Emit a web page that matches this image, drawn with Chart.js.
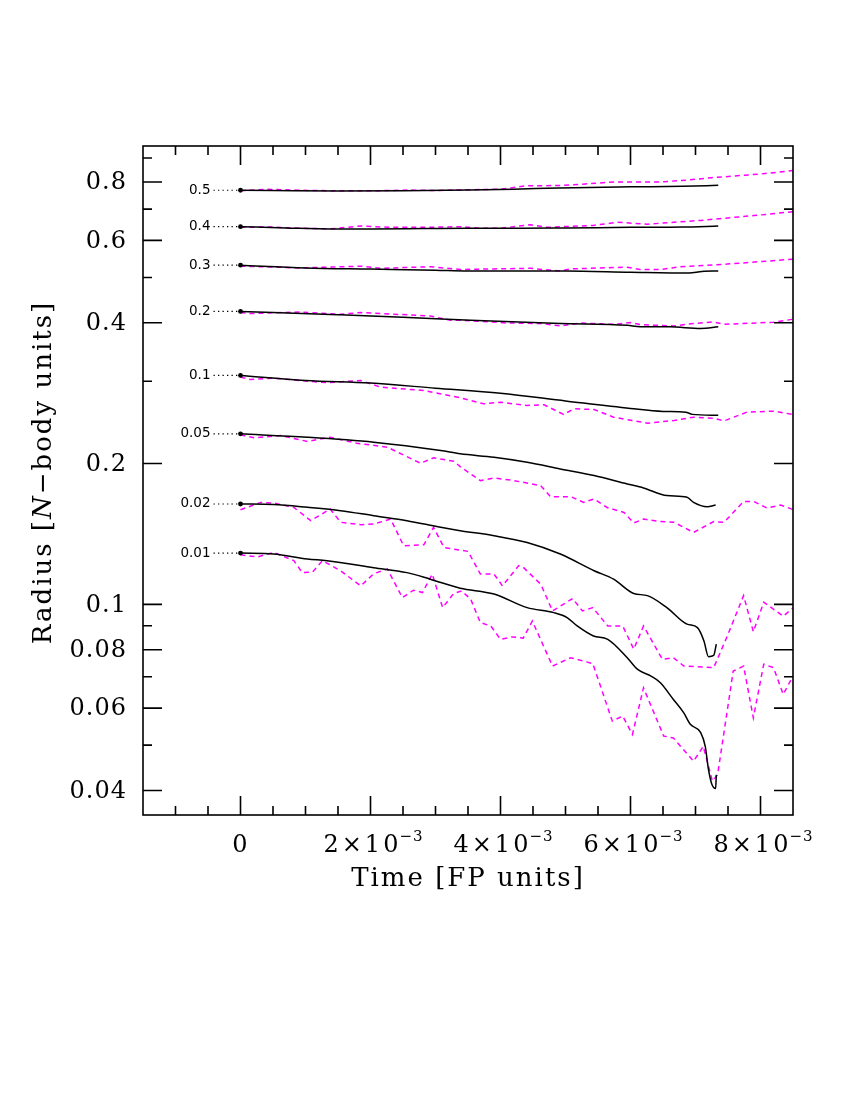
<!DOCTYPE html>
<html>
<head>
<meta charset="utf-8">
<script src="https://cdn.jsdelivr.net/npm/chart.js@4/dist/chart.umd.min.js"></script>
<style>
  html, body { margin: 0; padding: 0; background: #fff; }
  #wrap { width: 850px; height: 1100px; }
</style>
</head>
<body>
<div id="wrap"><canvas id="c" width="850" height="1100"></canvas></div>
<script>
// ---------- data (Time [FP units], Radius [N-body units]) ----------
const massFractions = ["0.5", "0.4", "0.3", "0.2", "0.1", "0.05", "0.02", "0.01"];

// N-body Lagrangian radii (solid black)
const nbody05 = [[0,0.768],[0.5e-3,0.767],[1.5e-3,0.765],[2.5e-3,0.766],[3.5e-3,0.769],[4.2e-3,0.772],[4.9e-3,0.777],[6e-3,0.781],[6.8e-3,0.783],[7.35e-3,0.787]];
const nbody04 = [[0,0.642],[0.7e-3,0.638],[1.4e-3,0.635],[2.0e-3,0.635],[2.8e-3,0.636],[3.5e-3,0.637],[4.3e-3,0.637],[5.0e-3,0.638],[6.0e-3,0.640],[6.8e-3,0.641],[7.35e-3,0.644]];
const nbody03 = [[0,0.531],[1e-3,0.524],[2e-3,0.521],[3e-3,0.518],[3.5e-3,0.516],[5e-3,0.516],[6e-3,0.513],[6.9e-3,0.511],[7.1e-3,0.515],[7.35e-3,0.516]];
const nbody02 = [[0,0.423],[1.5e-3,0.416],[2.5e-3,0.411],[3.54e-3,0.405],[4.92e-3,0.3985],[5.95e-3,0.395],[6.15e-3,0.392],[6.6e-3,0.392],[7.08e-3,0.389],[7.35e-3,0.392]];
const nbody01 = [[0,0.3087],[1e-3,0.3011],[2e-3,0.2972],[3e-3,0.2899],[4e-3,0.2828],[5e-3,0.2722],[6e-3,0.2623],[6.5e-3,0.2585],[6.85e-3,0.2575],[6.95e-3,0.2548],[7.35e-3,0.2536]];
const nbody005 = [[0,0.2315],[1.03e-3,0.2277],[2.05e-3,0.2222],[3.08e-3,0.2132],[3.38e-3,0.2098],[3.9e-3,0.2063],[4.41e-3,0.2013],[4.92e-3,0.1948],[5.44e-3,0.1885],[5.95e-3,0.1809],[6.2e-3,0.1774],[6.56e-3,0.1708],[6.87e-3,0.1694],[6.97e-3,0.1652],[7.18e-3,0.1617],[7.31e-3,0.1631]];
const nbody002 = [[0,0.1639],[0.51e-3,0.1634],[1.03e-3,0.1612],[1.54e-3,0.1586],[2.05e-3,0.1547],[2.56e-3,0.1510],[3.08e-3,0.1461],[3.38e-3,0.1437],[3.9e-3,0.1402],[4.41e-3,0.1356],[4.92e-3,0.1281],[5.44e-3,0.1180],[5.74e-3,0.1132],[6.05e-3,0.1055],[6.26e-3,0.1044],[6.56e-3,0.0984],[6.87e-3,0.0907],[7.03e-3,0.0892],[7.13e-3,0.0835],[7.2e-3,0.0773],[7.28e-3,0.0778],[7.32e-3,0.0822]];
const nbody001 = [[0,0.1287],[0.51e-3,0.1281],[1.03e-3,0.1250],[1.33e-3,0.1240],[2.05e-3,0.1198],[2.56e-3,0.1169],[2.92e-3,0.1132],[3.38e-3,0.1083],[3.9e-3,0.1052],[4.41e-3,0.0984],[4.82e-3,0.0960],[5.03e-3,0.0936],[5.18e-3,0.0899],[5.43e-3,0.0856],[5.65e-3,0.0842],[5.95e-3,0.0769],[6.11e-3,0.0726],[6.31e-3,0.0703],[6.46e-3,0.0680],[6.66e-3,0.0626],[6.82e-3,0.0586],[6.92e-3,0.0554],[7.08e-3,0.0532],[7.15e-3,0.0497],[7.2e-3,0.0443],[7.25e-3,0.0413],[7.31e-3,0.0404],[7.32e-3,0.0432]];

// Fokker-Planck Lagrangian radii (dashed magenta)
const fp05 = [[0,0.766],[0.4e-3,0.772],[0.9e-3,0.768],[1.5e-3,0.766],[2.1e-3,0.766],[2.6e-3,0.769],[3.0e-3,0.767],[3.5e-3,0.770],[4.0e-3,0.772],[4.4e-3,0.785],[4.9e-3,0.786],[5.3e-3,0.792],[5.75e-3,0.800],[6.45e-3,0.800],[6.9e-3,0.808],[7.25e-3,0.817],[8.0e-3,0.832],[8.5e-3,0.846]];
const fp04 = [[0,0.640],[0.45e-3,0.641],[0.92e-3,0.637],[1.38e-3,0.635],[1.85e-3,0.644],[2.3e-3,0.640],[2.9e-3,0.640],[3.38e-3,0.642],[3.69e-3,0.637],[4.0e-3,0.637],[4.46e-3,0.648],[4.72e-3,0.640],[5.43e-3,0.646],[5.8e-3,0.656],[6.26e-3,0.650],[7.08e-3,0.662],[7.28e-3,0.666],[7.9e-3,0.678],[8.5e-3,0.691]];
const fp03 = [[0,0.5285],[0.92e-3,0.524],[1.85e-3,0.5285],[2.15e-3,0.523],[2.92e-3,0.527],[3.38e-3,0.520],[3.9e-3,0.5215],[4.46e-3,0.523],[4.92e-3,0.516],[5.08e-3,0.5215],[5.95e-3,0.526],[6.15e-3,0.520],[6.46e-3,0.520],[6.77e-3,0.527],[7.49e-3,0.534],[8.5e-3,0.547]];
const fp02 = [[0,0.4206],[0.15e-3,0.4186],[0.92e-3,0.4218],[1.54e-3,0.4171],[1.85e-3,0.4206],[2.92e-3,0.4136],[3.23e-3,0.405],[3.38e-3,0.405],[4.1e-3,0.3996],[4.62e-3,0.3985],[4.92e-3,0.3938],[5.23e-3,0.3996],[5.74e-3,0.3969],[6.0e-3,0.4004],[6.15e-3,0.3963],[6.67e-3,0.3938],[6.97e-3,0.3985],[7.28e-3,0.4016],[7.44e-3,0.3969],[8.2e-3,0.401],[8.5e-3,0.407]];
const fp01 = [[0,0.3061],[0.15e-3,0.3026],[0.51e-3,0.3045],[1.03e-3,0.3001],[1.33e-3,0.2978],[1.85e-3,0.3011],[2.15e-3,0.2914],[2.46e-3,0.2891],[2.82e-3,0.2866],[3.38e-3,0.2765],[3.74e-3,0.2684],[4.0e-3,0.2705],[4.41e-3,0.2662],[4.67e-3,0.2671],[4.97e-3,0.2547],[5.13e-3,0.2619],[5.44e-3,0.2610],[5.74e-3,0.2513],[6.26e-3,0.2440],[6.67e-3,0.2472],[6.97e-3,0.2513],[7.28e-3,0.2500],[7.44e-3,0.2468],[7.79e-3,0.2576],[8.2e-3,0.2589],[8.5e-3,0.2547]];
const fp005 = [[0,0.2304],[0.21e-3,0.2270],[0.62e-3,0.2296],[1.03e-3,0.2230],[1.38e-3,0.2277],[1.79e-3,0.2211],[2.26e-3,0.2168],[2.77e-3,0.2003],[2.97e-3,0.2057],[3.28e-3,0.2023],[3.38e-3,0.1970],[3.69e-3,0.1839],[3.9e-3,0.1862],[4.15e-3,0.1845],[4.62e-3,0.1794],[4.77e-3,0.1699],[5.08e-3,0.1699],[5.28e-3,0.1652],[5.44e-3,0.1680],[5.64e-3,0.1611],[5.9e-3,0.1572],[6.05e-3,0.1493],[6.2e-3,0.1522],[6.46e-3,0.1503],[6.67e-3,0.1498],[6.97e-3,0.1425],[7.28e-3,0.1503],[7.44e-3,0.1498],[7.74e-3,0.1660],[7.9e-3,0.1658],[8.1e-3,0.1607],[8.31e-3,0.1631],[8.5e-3,0.1595]];
const fp002 = [[0,0.1593],[0.31e-3,0.1652],[0.51e-3,0.1647],[0.82e-3,0.1612],[1.08e-3,0.1510],[1.38e-3,0.1599],[1.54e-3,0.1498],[1.85e-3,0.1480],[2.05e-3,0.1485],[2.31e-3,0.1522],[2.51e-3,0.1334],[2.82e-3,0.1341],[2.97e-3,0.1461],[3.13e-3,0.1323],[3.5e-3,0.1298],[3.69e-3,0.1161],[3.9e-3,0.1161],[4.03e-3,0.1095],[4.28e-3,0.1210],[4.35e-3,0.1200],[4.62e-3,0.1104],[4.8e-3,0.0968],[5.11e-3,0.1029],[5.26e-3,0.0968],[5.42e-3,0.0984],[5.65e-3,0.0899],[5.88e-3,0.0899],[6.05e-3,0.0802],[6.2e-3,0.0899],[6.49e-3,0.0763],[6.66e-3,0.0769],[6.82e-3,0.0738],[7.28e-3,0.0732],[7.49e-3,0.0856],[7.74e-3,0.1044],[7.89e-3,0.0874],[8.05e-3,0.1011],[8.35e-3,0.0943],[8.5e-3,0.0983]];
const fp001 = [[0,0.1276],[0.26e-3,0.1263],[0.51e-3,0.1291],[0.82e-3,0.1240],[0.95e-3,0.1169],[1.11e-3,0.1173],[1.26e-3,0.1240],[1.54e-3,0.1180],[1.85e-3,0.1095],[2.05e-3,0.1163],[2.26e-3,0.1190],[2.49e-3,0.1034],[2.66e-3,0.1072],[2.8e-3,0.1060],[2.95e-3,0.1161],[3.11e-3,0.0984],[3.28e-3,0.1055],[3.40e-3,0.1068],[3.54e-3,0.1027],[3.69e-3,0.0914],[3.85e-3,0.0899],[4.0e-3,0.0842],[4.18e-3,0.0852],[4.35e-3,0.0847],[4.49e-3,0.0921],[4.8e-3,0.0738],[5.08e-3,0.0769],[5.42e-3,0.0747],[5.72e-3,0.0563],[5.88e-3,0.0577],[6.03e-3,0.0527],[6.2e-3,0.0663],[6.51e-3,0.0523],[6.66e-3,0.0518],[6.97e-3,0.0462],[7.12e-3,0.0497],[7.26e-3,0.0419],[7.34e-3,0.0432],[7.58e-3,0.0720],[7.74e-3,0.0738],[7.89e-3,0.0572],[8.05e-3,0.0745],[8.2e-3,0.0732],[8.35e-3,0.0642],[8.5e-3,0.0703]];

// axes
const xRange = [-1.5e-3, 8.5e-3];
const yRange = [0.03545, 0.955];
const xMajorTicks = [0, 2e-3, 4e-3, 6e-3, 8e-3];
const xMinorTicks = [-1e-3, -0.5e-3, 0.5e-3, 1e-3, 1.5e-3, 2.5e-3, 3e-3, 3.5e-3, 4.5e-3, 5e-3, 5.5e-3, 6.5e-3, 7e-3, 7.5e-3];
const xTickLabels = [["0", ""], ["2\u00d710", "\u22123"], ["4\u00d710", "\u22123"], ["6\u00d710", "\u22123"], ["8\u00d710", "\u22123"]];
const yMajorTicks = [0.04, 0.06, 0.08, 0.1, 0.2, 0.4, 0.6, 0.8];
const yMinorTicks = [0.05, 0.07, 0.09, 0.3, 0.5, 0.7, 0.9];
const yTickLabels = ["0.04", "0.06", "0.08", "0.1", "0.2", "0.4", "0.6", "0.8"];
const xTitle = "Time [FP units]";
const yTitleParts = ["Radius [", "N", "\u2212body units]"];

// ---------- datasets ----------
const nbodySeries = [nbody05, nbody04, nbody03, nbody02, nbody01, nbody005, nbody002, nbody001];
const fpSeries = [fp05, fp04, fp03, fp02, fp01, fp005, fp002, fp001];
const toXY = arr => arr.map(p => ({ x: p[0], y: p[1] }));

const datasets = [];
nbodySeries.forEach((s, i) => datasets.push({
  label: "N-body " + massFractions[i],
  data: toXY(s),
  showLine: true,
  borderColor: "#000",
  backgroundColor: "#000",
  borderWidth: 1.5,
  cubicInterpolationMode: "monotone",
  pointRadius: ctx => (ctx.dataIndex === 0 ? 2.4 : 0),
  pointBorderWidth: 0,
  pointBackgroundColor: "#000",
  fill: false
}));
fpSeries.forEach((s, i) => datasets.push({
  label: "FP " + massFractions[i],
  data: toXY(s),
  showLine: true,
  borderColor: "#ff00ff",
  borderWidth: 1.5,
  borderDash: [5, 4],
  tension: 0,
  pointRadius: 0,
  fill: false
}));

// ---------- frame / ticks / labels plugin ----------
const setLS = (ctx, v) => { try { ctx.letterSpacing = v; } catch (e) {} };
const framePlugin = {
  id: "frame",
  afterDraw(chart) {
    const ctx = chart.ctx;
    const a = chart.chartArea;
    const xs = chart.scales.x, ys = chart.scales.y;
    const L = 19, S = 9;
    ctx.save();
    ctx.strokeStyle = "#000";
    ctx.lineWidth = 1.6;
    ctx.strokeRect(a.left, a.top, a.right - a.left, a.bottom - a.top);
    ctx.beginPath();
    const xt = (v, len) => {
      const p = xs.getPixelForValue(v);
      ctx.moveTo(p, a.bottom); ctx.lineTo(p, a.bottom - len);
      ctx.moveTo(p, a.top); ctx.lineTo(p, a.top + len);
    };
    const yt = (v, len) => {
      const p = ys.getPixelForValue(v);
      ctx.moveTo(a.left, p); ctx.lineTo(a.left + len, p);
      ctx.moveTo(a.right, p); ctx.lineTo(a.right - len, p);
    };
    xMajorTicks.forEach(v => xt(v, L));
    xMinorTicks.forEach(v => xt(v, S));
    yMajorTicks.forEach(v => yt(v, L));
    yMinorTicks.forEach(v => yt(v, S));
    ctx.stroke();

    // y tick labels
    ctx.fillStyle = "#000";
    ctx.font = "24px 'DejaVu Serif'";
    ctx.textAlign = "right";
    ctx.textBaseline = "middle";
    setLS(ctx, "1px");
    yMajorTicks.forEach((v, i) => {
      ctx.fillText(yTickLabels[i], a.left - 16, ys.getPixelForValue(v) + 1);
    });

    // x tick labels (with superscript exponent)
    ctx.textAlign = "left";
    ctx.textBaseline = "alphabetic";
    xMajorTicks.forEach((v, i) => {
      const [base, sup] = xTickLabels[i];
      ctx.font = "24px 'DejaVu Serif'";
      setLS(ctx, "3px");
      const wb = ctx.measureText(base).width;
      ctx.font = "15px 'DejaVu Serif'";
      setLS(ctx, "1px");
      const ws = sup ? ctx.measureText(sup).width : 0;
      const p = xs.getPixelForValue(v);
      const x0 = p - (wb + ws) / 2 + (sup ? 4 : 1);
      ctx.font = "24px 'DejaVu Serif'";
      setLS(ctx, "3px");
      ctx.fillText(base, x0, a.bottom + 37);
      if (sup) {
        ctx.font = "15px 'DejaVu Serif'";
        setLS(ctx, "1px");
        ctx.fillText(sup, x0 + wb - 2, a.bottom + 26);
      }
    });

    // axis titles
    ctx.font = "26px 'DejaVu Serif'";
    setLS(ctx, "2px");
    ctx.textAlign = "center";
    ctx.textBaseline = "middle";
    ctx.fillText(xTitle, (a.left + a.right) / 2, a.bottom + 64);

    ctx.save();
    ctx.translate(44, (a.top + a.bottom) / 2 - 8);
    ctx.rotate(-Math.PI / 2);
    const fonts = ["26px 'DejaVu Serif'", "italic 26px 'DejaVu Serif'", "26px 'DejaVu Serif'"];
    const widths = yTitleParts.map((t, i) => { ctx.font = fonts[i]; return ctx.measureText(t).width; });
    const total = widths.reduce((s, w) => s + w, 0);
    let cx = -total / 2;
    ctx.textAlign = "left";
    yTitleParts.forEach((t, i) => { ctx.font = fonts[i]; ctx.fillText(t, cx, 0); cx += widths[i]; });
    ctx.restore();

    // curve labels with dotted leaders
    setLS(ctx, "0px");
    const x0p = xs.getPixelForValue(0);
    ctx.font = "13.5px 'DejaVu Sans'";
    ctx.textAlign = "right";
    ctx.textBaseline = "middle";
    ctx.lineWidth = 1.2;
    ctx.setLineDash([1.3, 3.2]);
    nbodySeries.forEach((s, i) => {
      const py = ys.getPixelForValue(s[0][1]);
      ctx.beginPath();
      ctx.moveTo(x0p - 27, py);
      ctx.lineTo(x0p - 2, py);
      ctx.stroke();
      ctx.fillText(massFractions[i], x0p - 30, py);
    });
    ctx.setLineDash([]);
    ctx.restore();
  }
};

new Chart(document.getElementById("c"), {
  type: "scatter",
  data: { datasets },
  options: {
    responsive: false,
    animation: false,
    devicePixelRatio: 1,
    layout: { padding: { left: 143, right: 57, top: 146, bottom: 285 } },
    scales: {
      x: { type: "linear", min: xRange[0], max: xRange[1], display: false },
      y: { type: "logarithmic", min: yRange[0], max: yRange[1], display: false }
    },
    plugins: { legend: { display: false }, tooltip: { enabled: false } }
  },
  plugins: [framePlugin]
});
</script>
</body>
</html>
